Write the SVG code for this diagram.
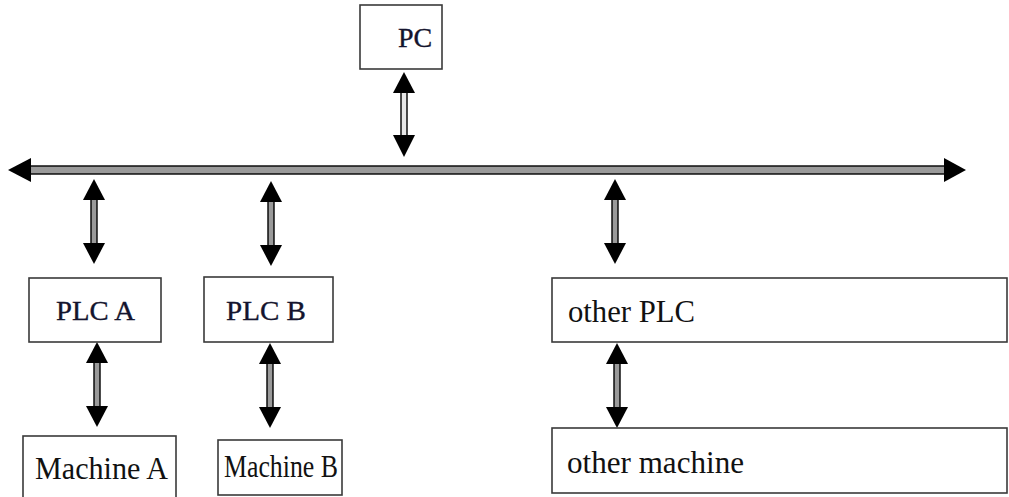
<svg xmlns="http://www.w3.org/2000/svg" width="1009" height="497" viewBox="0 0 1009 497">
  <style>
    .box { fill: #ffffff; stroke: #3a3a3a; stroke-width: 1.6; }
    .lbl { font-family: "Liberation Serif", "Times New Roman", serif; fill: #14142e; stroke: #14142e; stroke-width: 0.35; font-size: 28px; }
    .txt { font-family: "Liberation Serif", "Times New Roman", serif; fill: #111111; font-size: 32px; }
    .shaft { fill: #9a9a9a; stroke: #000000; stroke-width: 1.4; }
    .shaft-light { fill: #e8e8e8; stroke: #000000; stroke-width: 1.4; }
    .head { fill: #000000; }
  </style>
  <defs>
    <!-- vertical double-headed arrow, centred on x=0, from y=0 to y=85 -->
    <g id="varrow">
      <rect class="shaft" x="-3" y="14" width="6" height="57"/>
      <polygon class="head" points="0,0 11,21 -11,21"/>
      <polygon class="head" points="0,85 11,64 -11,64"/>
    </g>
  </defs>
  <rect width="1009" height="497" fill="#ffffff"/>

  <g id="connectors">
    <!-- bus -->
    <g id="bus">
      <rect class="shaft" x="20" y="166" width="932" height="8"/>
      <polygon class="head" points="8,170 31,158 31,182"/>
      <polygon class="head" points="966,170 944,158 944,182"/>
    </g>
    <!-- PC to bus -->
    <g id="pc-bus">
      <rect class="shaft-light" x="401" y="86" width="6" height="56"/>
      <polygon class="head" points="404,72 415,93 393,93"/>
      <polygon class="head" points="404,157 415,135 393,135"/>
    </g>
    <use href="#varrow" x="94" y="179"/>
    <use href="#varrow" x="271" y="181"/>
    <use href="#varrow" x="615" y="179"/>
    <use href="#varrow" x="97" y="342"/>
    <use href="#varrow" x="270" y="343"/>
    <use href="#varrow" x="617" y="343"/>
  </g>

  <g id="pc">
    <rect class="box" x="360" y="5" width="82" height="64"/>
    <text class="lbl" x="398" y="47">PC</text>
  </g>
  <g id="plc-a">
    <rect class="box" x="29" y="278" width="132" height="64"/>
    <text class="lbl" x="56" y="320" textLength="79" lengthAdjust="spacingAndGlyphs">PLC A</text>
  </g>
  <g id="plc-b">
    <rect class="box" x="204" y="277" width="129" height="65"/>
    <text class="lbl" x="226" y="320" textLength="80" lengthAdjust="spacingAndGlyphs">PLC B</text>
  </g>
  <g id="other-plc">
    <rect class="box" x="552" y="278" width="455" height="64"/>
    <text class="txt" x="568" y="322" textLength="127" lengthAdjust="spacingAndGlyphs">other PLC</text>
  </g>
  <g id="machine-a">
    <rect class="box" x="23" y="436" width="153" height="66"/>
    <text class="txt" x="35" y="479" textLength="133" lengthAdjust="spacingAndGlyphs">Machine A</text>
  </g>
  <g id="machine-b">
    <rect class="box" x="218" y="440" width="124" height="55"/>
    <text class="txt" x="224" y="477" textLength="114" lengthAdjust="spacingAndGlyphs">Machine B</text>
  </g>
  <g id="other-machine">
    <rect class="box" x="552" y="428" width="455" height="65"/>
    <text class="txt" x="567" y="473" textLength="177" lengthAdjust="spacingAndGlyphs">other machine</text>
  </g>
</svg>
